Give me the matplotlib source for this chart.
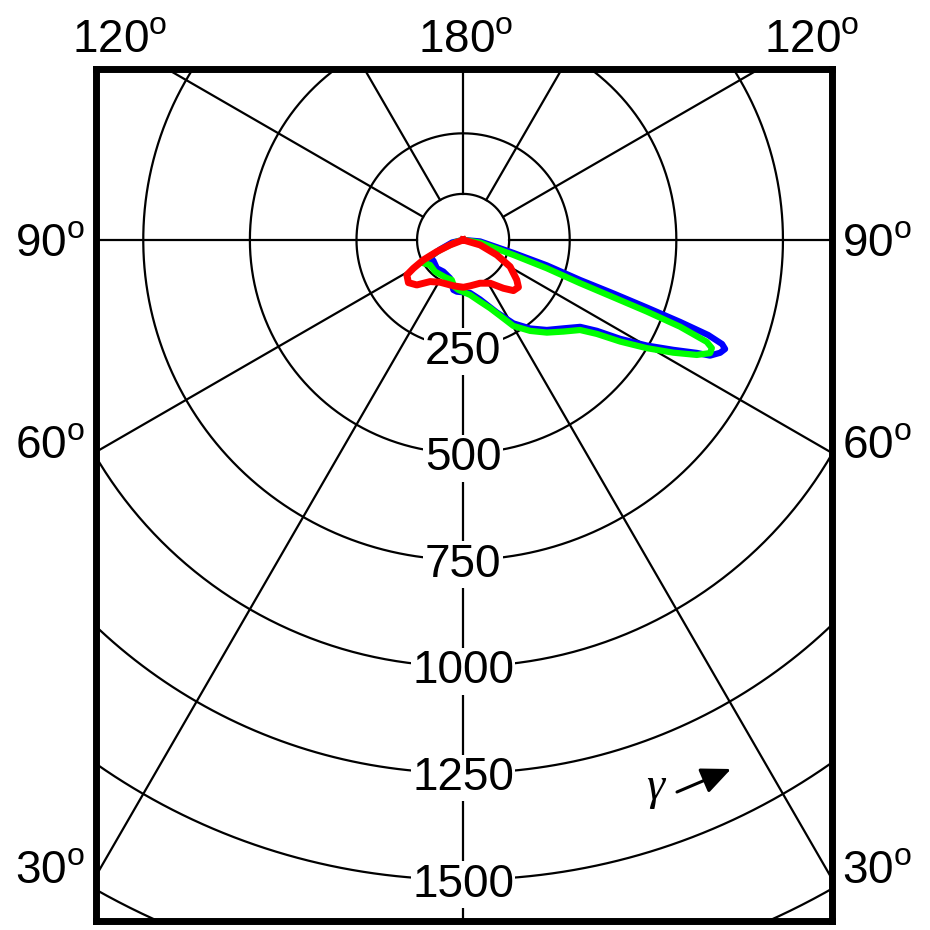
import numpy as np
import matplotlib.pyplot as plt

plt.rcParams["font.family"] = ["Liberation Sans", "DejaVu Sans"]
plt.rcParams["mathtext.fontset"] = "custom"
plt.rcParams["mathtext.rm"] = "Liberation Sans"

# polar data: angle in degrees (0 = down, +90 = right), radius in data units
red_theta = [0, 73.6, 66, 60.4, 53.3, 49.5, 44.8, 39.8, 32, 21.4, 8.7, 0.4, -11.9, -28.5,
             -38.4, -45.8, -52, -58.1, -60.3, -63.3, -66, -69, 0]
red_r = [0, 41.5, 86.5, 126.7, 157, 170.6, 167.4, 147.5, 119.7, 109, 109, 111, 110, 112.9,
         124.6, 151.4, 162.7, 155.4, 134.1, 104.2, 67.5, 32.7, 0]

green_theta = [0, -75, -66.5, -63.2, -59.6, -52.9, -41.5, -25.8, -15.8, -10.9, -5.4, 7.3,
               15.4, 21.6, 27.2, 30.3, 36.4, 42.1, 47.6, 52.4, 54.9, 57.1, 59.5, 61.8, 63.8,
               65.4, 66.5, 67.3, 68.2, 68.7, 69.1, 69.7, 71.3, 73.4, 81, 0]
green_r = [0, 15.3, 58.8, 95.3, 107.9, 97.1, 99.2, 97.1, 97.5, 111.5, 117.7, 130,
           150.1, 172.2, 206.5, 233.6, 265, 292.8, 318.6, 346.1, 383.2, 438.6, 500, 559.4, 610.7,
           637.1, 636, 619.2, 547.9, 462.4, 377.2, 292.5, 207, 123, 40.4, 0]

blue_theta = [0, -77, -67.6, -60.6, -60.9, -55.1, -42.9, -31.9, -18.7, -11, -6.9, 7.5, 15.9,
              24.9, 31.1, 37.1, 42.9, 48.6, 53.4, 55.8, 57.8, 60.1, 62.4, 64.2, 64.9, 66.3,
              67.4, 68.1, 68.8, 69.3, 69.8, 70.4, 71.1, 73.1, 75.5, 85, 0]
blue_r = [0, 26.4, 58.4, 105, 93.1, 84.9, 90.6, 87.5, 94.8, 119.4, 122.1, 125.4, 145.1,
          187.5, 228.6, 260.3, 288.2, 313.6, 341.9, 379.2, 435.2, 496.7, 556.4, 608.7, 639.4, 658.2,
          665.4, 654.4, 616.2, 544, 458.9, 374, 289.9, 205.2, 121.8, 40, 0]

ring_values = [250, 500, 750, 1000, 1250, 1500]
extra_rings = [108, 1750]
spoke_angles = np.arange(0, 360, 30)


def to_xy(theta_deg, r):
    t = np.radians(np.asarray(theta_deg, dtype=float))
    r = np.asarray(r, dtype=float)
    return r * np.sin(t), -r * np.cos(t)


fig = plt.figure(figsize=(9.3, 9.3), dpi=100)
ax = fig.add_axes([95.5 / 930, 9 / 930, 736.5 / 930, 852.5 / 930])
ax.set_xlim(-862, 865)
ax.set_ylim(-1597, 402)
ax.set_xticks([])
ax.set_yticks([])
for sp in ax.spines.values():
    sp.set_linewidth(5)

# grid circles
tt = np.linspace(0, 360, 721)
for r in extra_rings + ring_values:
    x, y = to_xy(tt, np.full_like(tt, r))
    ax.plot(x, y, color="black", lw=1.6, zorder=1)

# spokes
for a in spoke_angles:
    x, y = to_xy([a, a], [extra_rings[0], 2500])
    ax.plot(x, y, color="black", lw=1.6, zorder=1)

# ring labels
for r in ring_values:
    ax.text(0, -r - 40, str(r), ha="center", va="baseline", fontsize=33, zorder=2,
            bbox=dict(facecolor="white", edgecolor="none", pad=1))

# curves
x, y = to_xy(blue_theta, blue_r)
ax.plot(x, y, color="#0000ff", lw=4.5, zorder=3, solid_joinstyle="round")
x, y = to_xy(green_theta, green_r)
ax.plot(x, y, color="#00ff00", lw=4.5, zorder=4, solid_joinstyle="round")
x, y = to_xy(red_theta, red_r)
ax.plot(x, y, color="#ff0000", lw=5, zorder=5, solid_joinstyle="round")

# angle labels around the frame
deg = r"$^{\mathrm{o}}$"
top_labels = [("120", 120), ("180", 466), ("120", 812)]
for txt, px in top_labels:
    fig.text(px / 930, 1 - 52 / 930, txt + deg, ha="center", va="baseline", fontsize=33)
side_labels = [("90", 256), ("60", 458), ("30", 883)]
for txt, py in side_labels:
    fig.text(50 / 930, 1 - py / 930, txt + deg, ha="center", va="baseline", fontsize=33)
    fig.text(877 / 930, 1 - py / 930, txt + deg, ha="center", va="baseline", fontsize=33)

# gamma direction arrow
ax.annotate("", xy=(731 / 930, 1 - 769 / 930), xytext=(677 / 930, 1 - 792 / 930),
            xycoords="figure fraction", textcoords="figure fraction",
            arrowprops=dict(arrowstyle="-|>,head_length=0.9,head_width=0.4",
                            lw=2.2, color="black", mutation_scale=20, shrinkA=0, shrinkB=0))
fig.text(655 / 930, 1 - 788 / 930, "γ", ha="center", va="center", fontsize=33,
         family=["Liberation Serif", "DejaVu Serif"], style="italic")

fig.savefig("out.png", dpi=100)
